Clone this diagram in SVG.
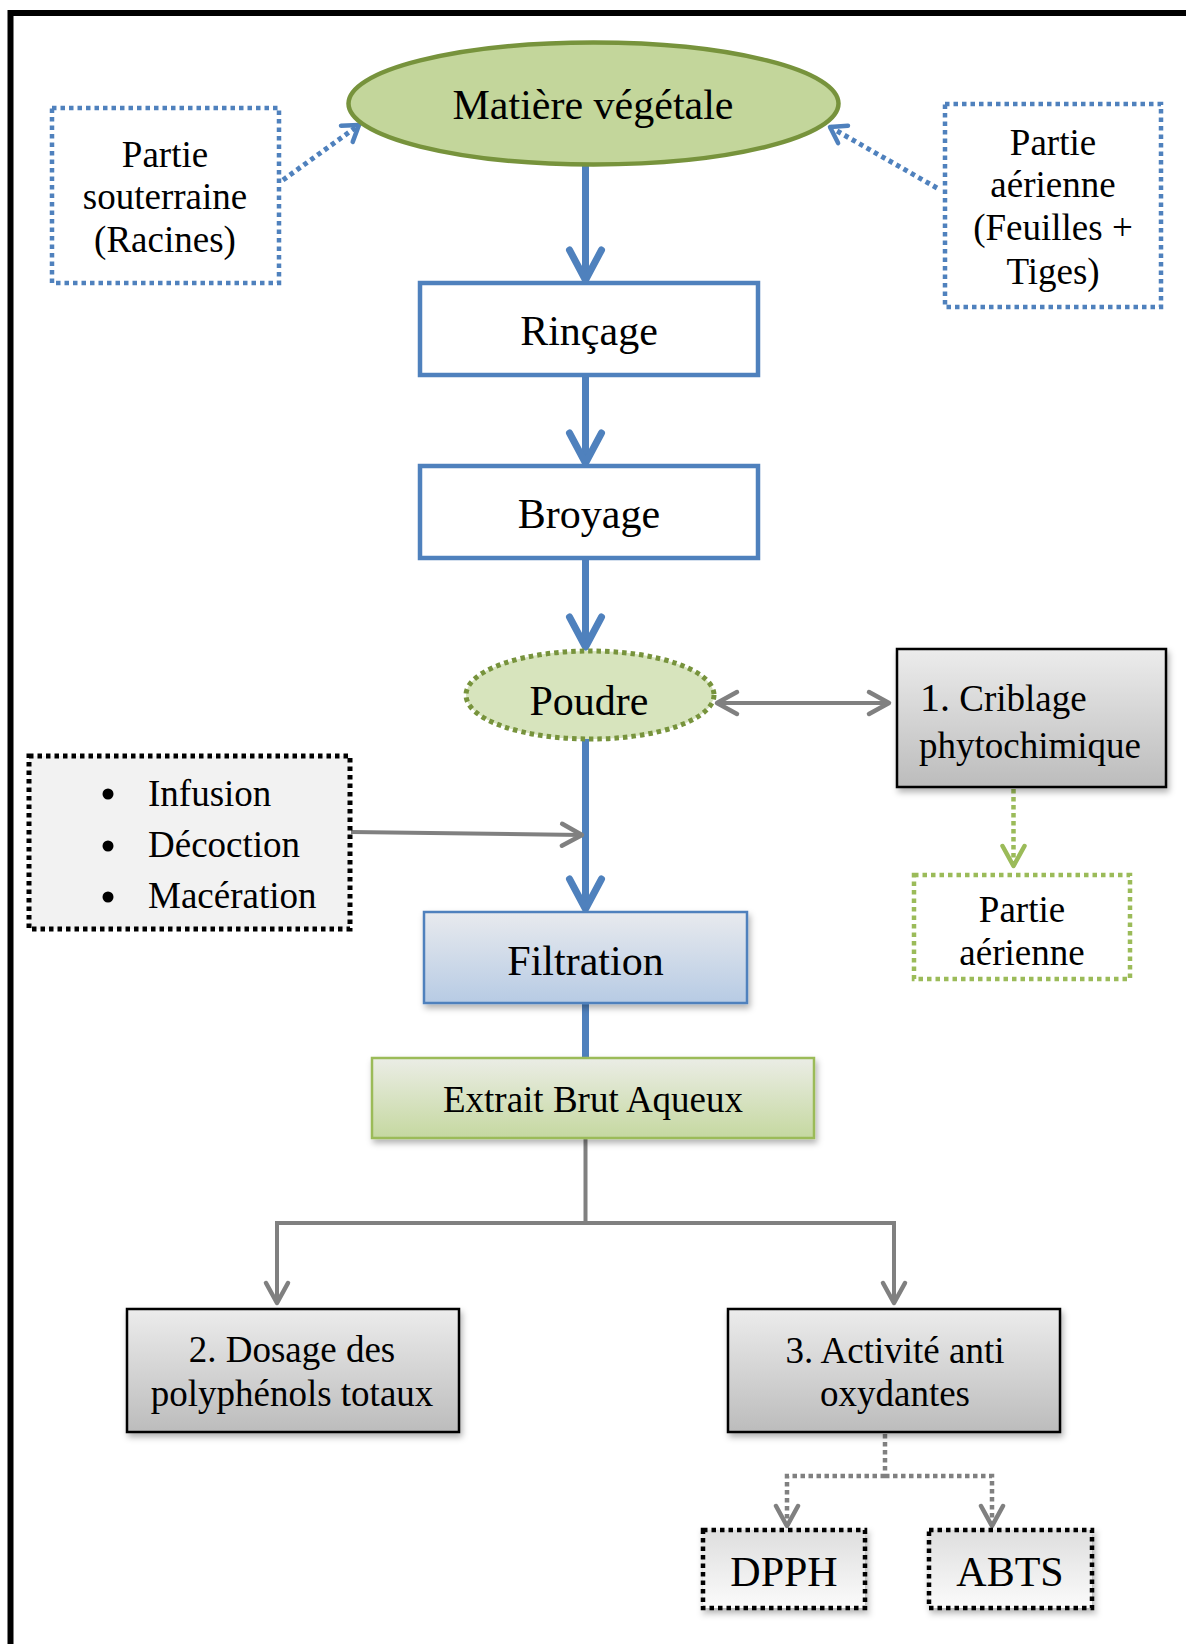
<svg xmlns="http://www.w3.org/2000/svg" width="1186" height="1644" viewBox="0 0 1186 1644">
<style>
text{font-family:"Liberation Serif","Times New Roman",serif;fill:#000}
.big{font-size:42px}
.sm{font-size:37px}
.mid{text-anchor:middle}
.blue{fill:none;stroke:#4f81bd;stroke-width:7}
.bluedot{fill:none;stroke:#4f81bd;stroke-width:5;stroke-dasharray:4.5 4}
.gray{fill:none;stroke:#808080;stroke-width:4}
.graydot{fill:none;stroke:#808080;stroke-width:4.5;stroke-dasharray:4.5 3.5}
.greendot{fill:none;stroke:#9bbb59;stroke-width:4.5;stroke-dasharray:4.5 3.5}
.boxg{stroke:#000;stroke-width:2.5;fill:url(#gGray)}
</style>
<defs>
<linearGradient id="gGray" x1="0" y1="0" x2="0" y2="1"><stop offset="0" stop-color="#ececec"/><stop offset="1" stop-color="#bcbcbc"/></linearGradient>
<linearGradient id="gBlue" x1="0" y1="0" x2="0" y2="1"><stop offset="0" stop-color="#e8eaee"/><stop offset="1" stop-color="#b7cbe4"/></linearGradient>
<linearGradient id="gGreen" x1="0" y1="0" x2="0" y2="1"><stop offset="0" stop-color="#ebede6"/><stop offset="1" stop-color="#c5d8a0"/></linearGradient>
<linearGradient id="gLight" x1="0" y1="0" x2="0" y2="1"><stop offset="0" stop-color="#dedede"/><stop offset="1" stop-color="#fbfbfb"/></linearGradient>
<filter id="sh" x="-10%" y="-10%" width="130%" height="140%"><feDropShadow dx="2" dy="4" stdDeviation="3" flood-color="#000" flood-opacity="0.3"/></filter>
<marker id="mBlue" markerUnits="userSpaceOnUse" orient="auto" overflow="visible" markerWidth="1" markerHeight="1"><path d="M-30,-16 L0,0 L-30,16" fill="none" stroke="#4f81bd" stroke-width="7" stroke-linecap="round" stroke-linejoin="round"/></marker>
<marker id="mBlueS" markerUnits="userSpaceOnUse" orient="auto" overflow="visible" markerWidth="1" markerHeight="1"><path d="M-15,-10 L0,0 L-15,10" fill="none" stroke="#4f81bd" stroke-width="4.5" stroke-linecap="round" stroke-linejoin="round"/></marker>
<marker id="mGray" markerUnits="userSpaceOnUse" orient="auto-start-reverse" overflow="visible" markerWidth="1" markerHeight="1"><path d="M-20,-11 L0,0 L-20,11" fill="none" stroke="#808080" stroke-width="4.5" stroke-linecap="round" stroke-linejoin="round"/></marker>
<marker id="mGreen" markerUnits="userSpaceOnUse" orient="auto" overflow="visible" markerWidth="1" markerHeight="1"><path d="M-20,-11 L0,0 L-20,11" fill="none" stroke="#9bbb59" stroke-width="4.5" stroke-linecap="round" stroke-linejoin="round"/></marker>
</defs>
<rect width="1186" height="1644" fill="#fff"/>
<path d="M10.5,1644 V13 H1186" fill="none" stroke="#000" stroke-width="6" stroke-linejoin="miter"/>

<g id="connectors">
<line class="blue" x1="585.5" y1="160" x2="585.5" y2="280" marker-end="url(#mBlue)"/>
<line class="blue" x1="585.5" y1="376" x2="585.5" y2="463" marker-end="url(#mBlue)"/>
<line class="blue" x1="585.5" y1="558" x2="585.5" y2="647" marker-end="url(#mBlue)"/>
<line class="blue" x1="585.5" y1="738" x2="585.5" y2="909" marker-end="url(#mBlue)"/>
<line class="blue" x1="585.5" y1="1004" x2="585.5" y2="1058"/>
<line class="bluedot" x1="283" y1="180" x2="359" y2="125" marker-end="url(#mBlueS)"/>
<line class="bluedot" x1="937" y1="188" x2="830" y2="127" marker-end="url(#mBlueS)"/>
<line class="gray" x1="351" y1="832" x2="582" y2="835" stroke-width="3.5" marker-end="url(#mGray)"/>
<line class="gray" x1="717" y1="703" x2="889" y2="703" marker-start="url(#mGray)" marker-end="url(#mGray)"/>
<line class="greendot" x1="1013.5" y1="789" x2="1013.5" y2="866" marker-end="url(#mGreen)"/>
<path class="gray" d="M585.5,1138 V1223 M275,1223 H896"/>
<line class="gray" x1="277" y1="1223" x2="277" y2="1303" marker-end="url(#mGray)"/>
<line class="gray" x1="894" y1="1223" x2="894" y2="1303" marker-end="url(#mGray)"/>
<path class="graydot" d="M885,1434 V1476"/>
<path class="graydot" d="M885,1476 H787 V1526" marker-end="url(#mGray)"/>
<path class="graydot" d="M885,1476 H992 V1526" marker-end="url(#mGray)"/>
</g>

<g id="matiere">
<ellipse cx="593.5" cy="103.5" rx="245" ry="61" fill="#c3d69b" stroke="#77933c" stroke-width="4.5"/>
<text class="big mid" x="593" y="119">Matière végétale</text>
</g>
<g id="souterraine">
<rect x="52" y="108" width="227" height="175" fill="#fff" stroke="#4f81bd" stroke-width="4.5" stroke-dasharray="4.5 4"/>
<text class="sm mid" x="165" y="167">Partie</text>
<text class="sm mid" x="165" y="209">souterraine</text>
<text class="sm mid" x="165" y="252">(Racines)</text>
</g>
<g id="aerienne">
<rect x="945" y="104" width="216" height="203" fill="#fff" stroke="#4f81bd" stroke-width="4.5" stroke-dasharray="4.5 4"/>
<text class="sm mid" x="1053" y="155">Partie</text>
<text class="sm mid" x="1053" y="197">aérienne</text>
<text class="sm mid" x="1053" y="240">(Feuilles +</text>
<text class="sm mid" x="1053" y="284">Tiges)</text>
</g>
<g id="rincage">
<rect x="420" y="283" width="338" height="92" fill="#fff" stroke="#4f81bd" stroke-width="4.5"/>
<text class="big mid" x="589" y="345">Rinçage</text>
</g>
<g id="broyage">
<rect x="420" y="466" width="338" height="92" fill="#fff" stroke="#4f81bd" stroke-width="4.5"/>
<text class="big mid" x="589" y="528">Broyage</text>
</g>
<g id="poudre">
<ellipse cx="590" cy="695" rx="124" ry="44" fill="#d7e4bd" stroke="#77933c" stroke-width="5" stroke-dasharray="4.5 4"/>
<text class="big mid" x="589" y="715">Poudre</text>
</g>
<g id="criblage">
<rect class="boxg" x="897" y="649" width="269" height="138" filter="url(#sh)"/>
<text class="sm" x="920" y="711"><tspan font-size="40">1.</tspan> Criblage</text>
<text class="sm" x="919" y="758">phytochimique</text>
</g>
<g id="aerienne2">
<rect x="914" y="875" width="216" height="104" fill="#fff" stroke="#9bbb59" stroke-width="4.5" stroke-dasharray="4.5 4"/>
<text class="sm mid" x="1022" y="922">Partie</text>
<text class="sm mid" x="1022" y="965">aérienne</text>
</g>
<g id="methodes">
<rect x="29" y="756" width="321" height="173" fill="#f2f2f2" stroke="#000" stroke-width="5" stroke-dasharray="4.5 4"/>
<circle cx="108" cy="794" r="5.5"/>
<circle cx="108" cy="846" r="5.5"/>
<circle cx="108" cy="897" r="5.5"/>
<text class="sm" x="148" y="806">Infusion</text>
<text class="sm" x="148" y="857">Décoction</text>
<text class="sm" x="148" y="908">Macération</text>
</g>
<g id="filtration">
<rect x="424" y="912" width="323" height="91" fill="url(#gBlue)" stroke="#4f81bd" stroke-width="2.5" filter="url(#sh)"/>
<text class="big mid" x="585.5" y="975">Filtration</text>
</g>
<g id="extrait">
<rect x="372" y="1058" width="442" height="80" fill="url(#gGreen)" stroke="#9bbb59" stroke-width="2.5" filter="url(#sh)"/>
<text class="sm mid" x="593" y="1112">Extrait Brut Aqueux</text>
</g>
<g id="dosage">
<rect class="boxg" x="127" y="1309" width="332" height="123" filter="url(#sh)"/>
<text class="sm mid" x="292" y="1362">2. Dosage des</text>
<text class="sm mid" x="292" y="1406">polyphénols totaux</text>
</g>
<g id="activite">
<rect class="boxg" x="728" y="1309" width="332" height="123" filter="url(#sh)"/>
<text class="sm mid" x="895" y="1363">3. Activité anti</text>
<text class="sm mid" x="895" y="1406">oxydantes</text>
</g>
<g id="dpph">
<rect x="703" y="1530" width="162" height="78" fill="url(#gLight)" stroke="#000" stroke-width="4.5" stroke-dasharray="4.5 4" filter="url(#sh)"/>
<text class="big mid" x="784" y="1586">DPPH</text>
</g>
<g id="abts">
<rect x="929" y="1530" width="163" height="78" fill="url(#gLight)" stroke="#000" stroke-width="4.5" stroke-dasharray="4.5 4" filter="url(#sh)"/>
<text class="big mid" x="1010" y="1586">ABTS</text>
</g>
</svg>
